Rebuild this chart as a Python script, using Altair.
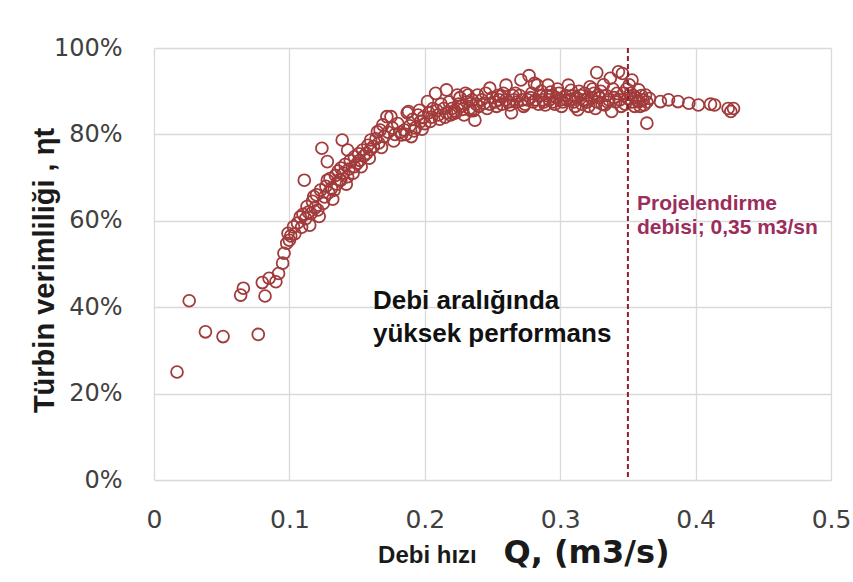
import altair as alt
import pandas as pd

# Flow rate Q (m3/s) of each measured point
q = [
    0.017, 0.026, 0.038, 0.051, 0.077, 0.064, 0.066, 0.080, 0.082, 0.085,
    0.090, 0.092, 0.095, 0.096, 0.098, 0.099, 0.100, 0.101, 0.103, 0.104,
    0.106, 0.108, 0.109, 0.110, 0.111, 0.112, 0.113, 0.114, 0.116, 0.117,
    0.118, 0.119, 0.120, 0.121, 0.123, 0.124, 0.125, 0.126, 0.127, 0.128,
    0.128, 0.129, 0.130, 0.131, 0.133, 0.134, 0.135, 0.136, 0.137, 0.138,
    0.138, 0.139, 0.140, 0.141, 0.143, 0.143, 0.144, 0.145, 0.148, 0.148,
    0.150, 0.151, 0.152, 0.154, 0.155, 0.157, 0.158, 0.160, 0.160, 0.162,
    0.164, 0.165, 0.166, 0.167, 0.169, 0.170, 0.172, 0.173, 0.175, 0.176,
    0.178, 0.180, 0.183, 0.185, 0.187, 0.188, 0.189, 0.190, 0.191, 0.193,
    0.195, 0.196, 0.197, 0.199, 0.200, 0.202, 0.203, 0.205, 0.206, 0.208,
    0.209, 0.210, 0.212, 0.214, 0.216, 0.216, 0.218, 0.220, 0.222, 0.224,
    0.225, 0.227, 0.228, 0.230, 0.231, 0.232, 0.233, 0.235, 0.237, 0.238,
    0.239, 0.240, 0.242, 0.244, 0.245, 0.248, 0.248, 0.250, 0.252, 0.254,
    0.255, 0.257, 0.258, 0.260, 0.260, 0.262, 0.264, 0.265, 0.266, 0.268,
    0.270, 0.271, 0.272, 0.274, 0.277, 0.278, 0.279, 0.280, 0.281, 0.282,
    0.283, 0.285, 0.287, 0.288, 0.290, 0.291, 0.292, 0.294, 0.295, 0.297,
    0.299, 0.300, 0.302, 0.304, 0.306, 0.307, 0.309, 0.310, 0.312, 0.313,
    0.315, 0.317, 0.318, 0.320, 0.322, 0.323, 0.325, 0.327, 0.327, 0.329,
    0.330, 0.331, 0.333, 0.334, 0.336, 0.337, 0.338, 0.339, 0.340, 0.341,
    0.342, 0.343, 0.344, 0.345, 0.346, 0.347, 0.348, 0.349, 0.350, 0.351,
    0.353, 0.353, 0.354, 0.355, 0.356, 0.358, 0.358, 0.360, 0.363, 0.364,
    0.364, 0.366, 0.374, 0.380, 0.387, 0.395, 0.402, 0.411, 0.414, 0.424, 0.426, 0.428,
    0.221, 0.226, 0.234, 0.246, 0.253, 0.256, 0.263, 0.267, 0.273, 0.276,
    0.284, 0.286, 0.289, 0.293, 0.296, 0.298, 0.301, 0.305, 0.308, 0.311,
    0.314, 0.316, 0.319, 0.321, 0.324, 0.326, 0.328, 0.332, 0.335, 0.352,
    0.357, 0.359, 0.361, 0.362,
    0.115, 0.122, 0.132, 0.142, 0.147, 0.153, 0.159, 0.168, 0.177, 0.182,
    0.186, 0.192, 0.198, 0.204, 0.211, 0.215, 0.219, 0.223, 0.229, 0.236,
]

# Turbine efficiency (%) of each measured point
eta = [
    25.0, 41.5, 34.3, 33.2, 33.7, 42.8, 44.4, 45.7, 42.6, 46.7,
    45.9, 47.8, 50.2, 52.5, 54.8, 57.1, 55.5, 56.5, 58.6, 57.0,
    59.5, 60.9, 58.5, 61.5, 69.4, 60.5, 63.3, 62.0, 61.7, 64.5,
    65.6, 63.0, 66.0, 62.5, 67.1, 76.8, 64.0, 65.5, 68.0, 73.7,
    69.4, 66.5, 69.8, 67.5, 67.1, 70.5, 68.5, 71.5, 69.5, 72.2,
    69.4, 78.7, 71.0, 73.0, 76.4, 70.2, 72.0, 74.0, 74.8, 72.5,
    73.3, 75.5, 74.0, 76.4, 75.0, 75.6, 77.5, 78.7, 76.5, 77.2,
    79.0, 80.6, 78.0, 81.0, 82.2, 79.5, 84.1, 80.5, 84.1, 81.5,
    80.0, 82.5, 79.9, 81.0, 85.0, 85.3, 82.0, 79.5, 83.5, 81.5,
    84.5, 85.6, 83.0, 84.0, 82.5, 87.6, 85.0, 84.0, 86.0, 89.5,
    85.5, 84.5, 87.0, 86.0, 90.3, 85.0, 87.5, 86.0, 85.5, 89.1,
    87.0, 86.5, 85.8, 89.5, 87.5, 89.1, 86.0, 88.0, 83.3, 87.0,
    89.1, 86.5, 88.0, 87.2, 89.5, 90.7, 87.0, 88.5, 87.5, 89.0,
    88.0, 87.0, 89.5, 91.4, 88.0, 87.5, 85.0, 89.0, 88.0, 87.5,
    89.0, 92.6, 88.0, 87.0, 93.6, 88.5, 89.5, 87.5, 91.8, 88.0,
    91.4, 89.0, 88.0, 87.5, 89.0, 91.4, 88.0, 89.0, 87.5, 88.5,
    89.5, 88.0, 87.5, 89.0, 91.4, 88.0, 89.0, 87.5, 88.5, 85.7,
    89.0, 88.0, 89.5, 87.5, 91.0, 88.5, 89.5, 94.3, 87.5, 88.5,
    90.0, 87.0, 86.8, 89.0, 88.0, 93.0, 85.3, 90.5, 88.5, 87.5,
    89.5, 94.5, 88.0, 86.5, 94.1, 89.5, 87.0, 90.5, 88.3, 91.5,
    92.6, 87.5, 89.0, 86.5, 88.5, 90.3, 87.5, 89.0, 89.1, 82.6,
    87.5, 88.3, 87.6, 88.0, 87.6, 87.2, 86.8, 87.0, 86.8, 86.0, 85.3, 86.0,
    84.8, 88.5, 85.5, 86.0, 86.5, 88.8, 86.8, 89.5, 86.5, 88.0,
    87.0, 90.0, 86.8, 89.8, 87.0, 90.5, 86.5, 88.0, 90.2, 86.5,
    90.0, 87.0, 88.0, 86.5, 90.5, 86.0, 89.0, 91.5, 87.5, 89.5,
    87.8, 86.5, 88.0, 86.8,
    59.0, 61.0, 65.0, 68.5, 71.0, 72.5, 74.5, 77.0, 78.5, 80.5,
    80.0, 80.8, 81.2, 83.0, 83.5, 84.0, 84.5, 85.0, 84.5, 85.5,
]

x_ticks = [0, 0.1, 0.2, 0.3, 0.4, 0.5]
y_ticks = [0, 20, 40, 60, 80, 100]

design_q = [0.35]
design_label = ["Projelendirme\ndebisi; 0,35 m3/sn"]
design_label_pos = [(0.3567, 62.5)]

range_label = ["Debi aralığında\nyüksek performans"]
range_label_pos = [(0.1617, 39.6)]

x_title_prefix = "Debi hızı"
x_title_main = "Q, (m3/s)"
y_title = "Türbin verimliliği , ηt"

W, H = 677, 432

df = pd.DataFrame({"q": q, "eta": eta})
x_scale = alt.Scale(domain=[0, 0.5], nice=False, zero=False)
y_scale = alt.Scale(domain=[0, 100], nice=False)

points = alt.Chart(df).mark_point(
    shape="circle", filled=False, size=140, strokeWidth=1.8,
    color="#A23B3B", opacity=1
).encode(
    x=alt.X("q:Q", scale=x_scale, axis=alt.Axis(
        values=x_ticks, format=".1~f", grid=True, gridColor="#d9d9d9", gridWidth=1.3,
        domain=False, ticks=False, labelFont="DejaVu Sans", labelFontSize=25,
        labelColor="#404040", labelPadding=27, labelFlush=False,
        title=x_title_main, titleFont="DejaVu Sans", titleFontSize=32,
        titleFontWeight="bold", titleColor="#1a1a1a", titleX=432, titleY=82,
        titleAlign="center", titleBaseline="alphabetic")),
    y=alt.Y("eta:Q", scale=y_scale, axis=alt.Axis(
        values=y_ticks, labelExpr="datum.value + '%'", grid=True,
        gridColor="#d9d9d9", gridWidth=1.3, domain=False, ticks=False,
        labelFont="DejaVu Sans", labelFontSize=24, labelColor="#404040",
        labelPadding=32, labelFlush=False,
        title=y_title, titleFont="Liberation Sans", titleFontSize=29,
        titleFontWeight="bold", titleColor="#1a1a1a", titleAngle=270,
        titleX=-101, titleY=222, titleAlign="center", titleBaseline="alphabetic")),
)

rule = alt.Chart(pd.DataFrame({"q": design_q})).mark_rule(
    color="#8B2035", strokeWidth=2, strokeDash=[5, 3]
).encode(x=alt.X("q:Q", scale=x_scale))

design_df = pd.DataFrame({
    "x": [p[0] for p in design_label_pos],
    "y": [p[1] for p in design_label_pos],
    "t": design_label,
})
design_text = alt.Chart(design_df).mark_text(
    align="left", baseline="alphabetic", font="Liberation Sans", fontSize=21,
    fontWeight="bold", color="#9B2D5C", lineBreak="\n", lineHeight=24
).encode(x=alt.X("x:Q", scale=x_scale), y=alt.Y("y:Q", scale=y_scale), text="t:N")

range_df = pd.DataFrame({
    "x": [p[0] for p in range_label_pos],
    "y": [p[1] for p in range_label_pos],
    "t": range_label,
})
range_text = alt.Chart(range_df).mark_text(
    align="left", baseline="alphabetic", font="Liberation Sans", fontSize=26,
    fontWeight="bold", color="#111111", lineBreak="\n", lineHeight=33
).encode(x=alt.X("x:Q", scale=x_scale), y=alt.Y("y:Q", scale=y_scale), text="t:N")

prefix_df = pd.DataFrame({"x": [0.1655], "t": [x_title_prefix]})
prefix_text = alt.Chart(prefix_df).mark_text(
    align="left", baseline="alphabetic", font="Liberation Sans", fontSize=24,
    fontWeight="bold", color="#1a1a1a"
).encode(x=alt.X("x:Q", scale=x_scale), y=alt.value(H + 83), text="t:N")

chart = alt.layer(points, rule, design_text, range_text, prefix_text).properties(
    width=W, height=H,
    autosize=alt.AutoSizeParams(type="none"),
    padding={"left": 154, "top": 48, "right": 22, "bottom": 102},
    background="white",
).configure_view(stroke="transparent")

chart.save("out.html", embed_options={"renderer": "svg", "actions": False})
